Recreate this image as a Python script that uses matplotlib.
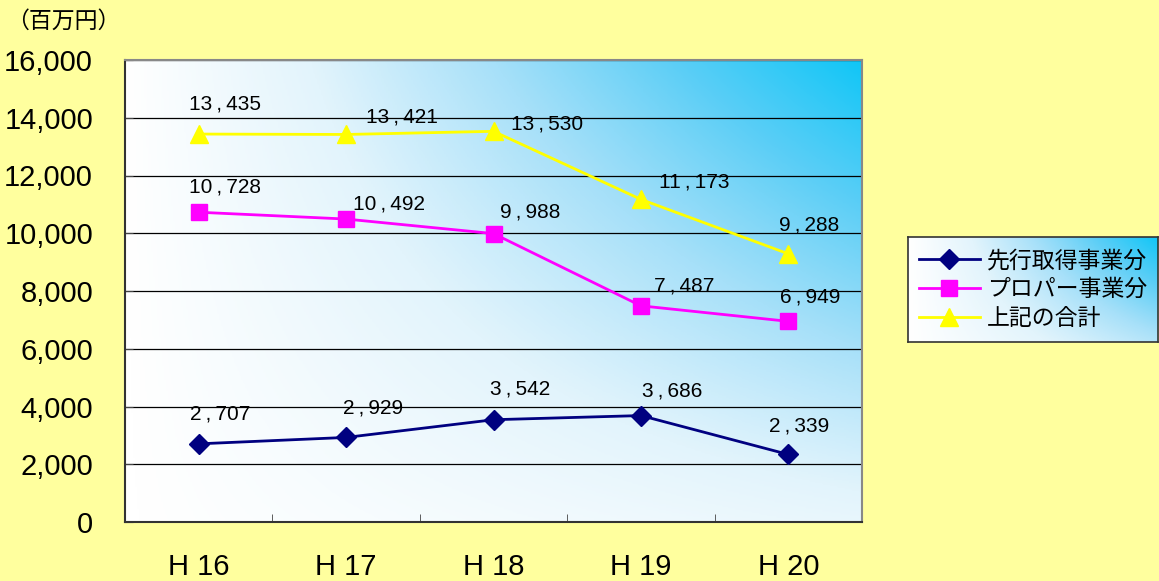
import numpy as np
import matplotlib
matplotlib.use("Agg")
import matplotlib.pyplot as plt
from matplotlib.colors import LinearSegmentedColormap

plt.rcParams['font.family'] = ['Liberation Sans', 'Noto Sans CJK JP', 'DejaVu Sans']

# Data (百万円)
years = ["H 16", "H 17", "H 18", "H 19", "H 20"]
advance = [2707, 2929, 3542, 3686, 2339]      # 先行取得事業分
proper = [10728, 10492, 9988, 7487, 6949]     # プロパー事業分
total = [13435, 13421, 13530, 11173, 9288]    # 上記の合計
series_names = ["先行取得事業分", "プロパー事業分", "上記の合計"]
y_ticks = [0, 2000, 4000, 6000, 8000, 10000, 12000, 14000, 16000]

# Label offsets in pixels (dx, dy) relative to each marker
off_total = [(26, 30), (56, 17), (54, 7), (53, 17), (21, 29)]
off_proper = [(26, 25), (43, 15), (37, 22), (43, 20), (22, 24)]
off_adv = [(21, 30), (27, 29), (27, 31), (31, 25), (11, 28)]

BG = '#FFFF9E'
W, H = 1159, 581
fig = plt.figure(figsize=(W / 100, H / 100), dpi=100, facecolor=BG)


def fmt_label(v):
    return f"{v:,}".replace(",", "\u2009,\u2009")


L, R, T, B = 125, 862, 60, 522
ax = fig.add_axes([L / W, 1 - B / H, (R - L) / W, (B - T) / H])

cmap = LinearSegmentedColormap.from_list(
    "sky", [(0.0, "#FFFFFF"), (0.25, "#E2F4FC"), (0.5, "#A6E0F9"),
            (0.75, "#5ACEF6"), (1.0, "#10C6F7")])


def gradient(nx, ny, base=0.2):
    gx = np.linspace(0, 1, nx)
    gy = np.linspace(0, 1, ny)
    X, Y = np.meshgrid(gx, gy)
    return np.clip(X * (base + (1 - base) * Y), 0, 1)


ax.imshow(gradient(400, 300), cmap=cmap, origin='lower', extent=[0, 1, 0, 1],
          transform=ax.transAxes, aspect='auto', zorder=0, vmin=0, vmax=1,
          interpolation='bilinear')

x = np.arange(len(years)) + 0.5
ax.set_xlim(0, len(years))
ax.set_ylim(0, 16000)

l1, = ax.plot(x, advance, color='#000080', lw=2, marker='D', ms=10,
              mfc='#000080', mec='#000080', zorder=3)
l2, = ax.plot(x, proper, color='#FF00FF', lw=2, marker='s', ms=11,
              mfc='#FF00FF', mec='#FF00FF', zorder=3)
l3, = ax.plot(x, total, color='#FFFF00', lw=2, marker='^', ms=13,
              mfc='#FFFF00', mec='#FFFF00', zorder=3)

for vals, offs in ((total, off_total), (proper, off_proper), (advance, off_adv)):
    for xi, v, (dx, dy) in zip(x, vals, offs):
        ax.annotate(fmt_label(v), (xi, v), xytext=(dx, dy), textcoords='offset pixels',
                    ha='center', va='center', fontsize=15, color='black', zorder=4)

ax.set_yticks(y_ticks)
ax.set_yticklabels([f"{v:,}" for v in y_ticks], fontsize=21)
ax.set_xticks(x)
ax.set_xticklabels(years, fontsize=21)
ax.set_xticks(np.arange(1, len(years)), minor=True)
ax.tick_params(axis='x', which='major', length=0, pad=22)
ax.tick_params(axis='x', which='minor', length=6, direction='in', color='#444444')
ax.tick_params(axis='y', length=6, direction='in', pad=23, color='#444444')

ax.yaxis.grid(True, color='black', lw=0.9)
ax.set_axisbelow(True)
for s in ('top', 'right'):
    ax.spines[s].set_color('#888888')
    ax.spines[s].set_linewidth(1.5)
for s in ('left', 'bottom'):
    ax.spines[s].set_color('#333333')
    ax.spines[s].set_linewidth(1.5)

fig.text(6 / W, 1 - 21 / H, "（百万円）", fontsize=16.5, ha='left', va='center')

# Legend box with its own gradient backdrop
lx0, ly0, lx1, ly1 = 908, 237, 1158, 342
lax = fig.add_axes([lx0 / W, 1 - ly1 / H, (lx1 - lx0) / W, (ly1 - ly0) / H])
lax.imshow(gradient(200, 100, 0.45), cmap=cmap, origin='lower',
           extent=[0, 1, 0, 1], aspect='auto', vmin=0, vmax=1,
           interpolation='bilinear')
lax.set_xlim(0, 1)
lax.set_ylim(0, 1)
lax.set_xticks([])
lax.set_yticks([])
for s in lax.spines.values():
    s.set_color('#333333')
    s.set_linewidth(1.2)
lax.legend([l1, l2, l3], series_names, loc='center', frameon=False,
           fontsize=16.5, handlelength=2.7, labelspacing=0.25, borderpad=0.1,
           handletextpad=0.3, borderaxespad=0.1)

fig.savefig("out.png", dpi=100, facecolor=BG)
